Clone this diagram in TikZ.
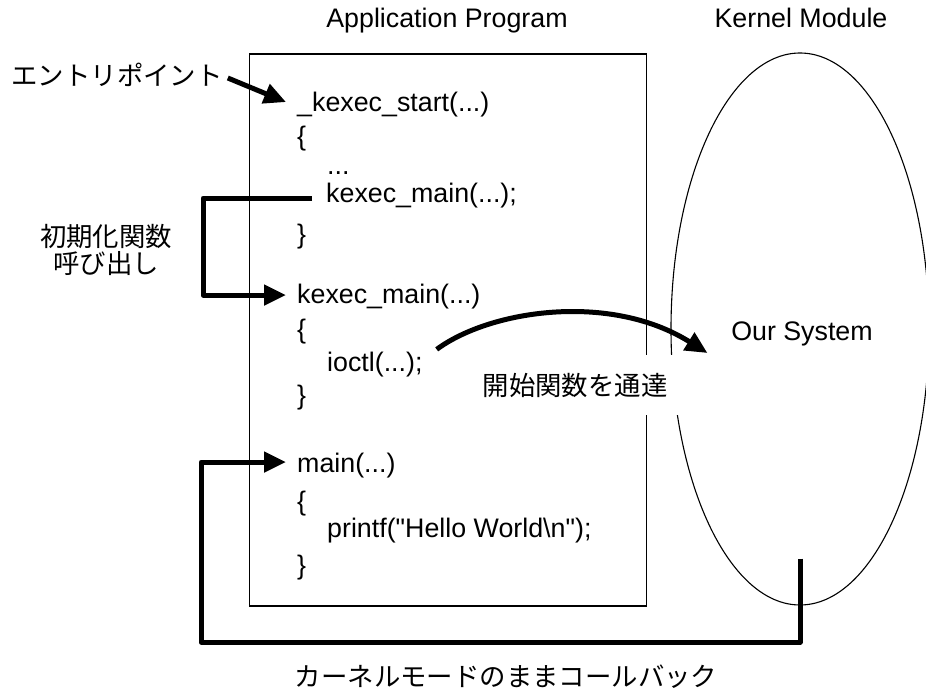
\documentclass[tikz,border=0pt]{standalone}
\usepackage{fontspec}
\newfontfamily\arial{Liberation Sans}
\newfontfamily\jp{Noto Sans CJK JP}
\usetikzlibrary{arrows.meta,shapes.geometric}
\begin{document}
\begin{tikzpicture}[x=1pt,y=-1pt,
  txt/.style={font=\arial\fontsize{26.8}{30}\selectfont, inner sep=0pt},
  code/.style={txt, anchor=base west},
  jtxt/.style={font=\jp\fontsize{26.4}{26.6}\selectfont, inner sep=0pt, align=center},
  thinline/.style={draw=black, line width=1.1pt},
  conn/.style={line width=5pt, line join=round, -{Triangle[length=22pt,width=20pt]}}]
\useasboundingbox (0,0) rectangle (926,692);
% titles
\node[txt, anchor=base] (ttlA) at (447,28) {Application Program};
\node[txt, anchor=base] (ttlK) at (801,28) {Kernel Module};
% application box and kernel ellipse
\node[thinline, rectangle, minimum width=397pt, minimum height=552pt, inner sep=0pt] (app) at (448,330) {};
\node[thinline, ellipse, minimum width=258pt, minimum height=552pt, inner sep=0pt] (km) at (800,329) {};
\node[txt, anchor=base] (os) at (802,341) {Our System};
% code lines
\node[code] (c1) at (297,112) {\_kexec\_start(...)};
\node[code] (c2) at (297,146) {\{};
\node[code] (c3) at (327,175) {...};
\node[code] (c4) at (326,203) {kexec\_main(...);};
\node[code] (c5) at (297,244) {\}};
\node[code] (c6) at (297,304) {kexec\_main(...)};
\node[code] (c7) at (297,339) {\{};
\node[code] (c8) at (327,372) {ioctl(...);};
\node[code] (c9) at (297,404) {\}};
\node[code] (c10) at (297,472) {main(...)};
\node[code] (c11) at (297,510) {\{};
\node[code] (c12) at (327,537) {printf("Hello World\textbackslash n");};
\node[code] (c13) at (297,574) {\}};
% japanese labels
\node[jtxt] (ep) at (117,75) {エントリポイント};
\node[jtxt] (il) at (106,250) {初期化関数\\呼び出し};
\node[jtxt, fill=white, inner xsep=12pt, inner ysep=18pt] (st) at (575,385) {開始関数を通達};
\node[jtxt] (cb) at (506,677) {カーネルモードのままコールバック};
% helper columns / rows
\coordinate (icol) at (203,250);
\coordinate (cbcol) at (201,550);
\coordinate (cbrow) at (500,642);
% entry arrow
\draw[conn] ([xshift=5pt,yshift=-3pt]ep.east) -- ([xshift=-11pt,yshift=3pt]c1.west);
% init call
\coordinate (is) at ([xshift=-14pt,yshift=-2pt]c4.west);
\coordinate (it) at ([xshift=-11pt,yshift=2pt]c6.west);
\draw[conn] (is) -- (is -| icol) -- (it -| icol) -- (it);
% ioctl to kernel
\draw[conn] ([xshift=14pt,yshift=3pt]c8.north east) .. controls (490,310) and (610,292) .. ([xshift=37pt,yshift=-24pt]km.west);
% callback
\coordinate (cs) at ([yshift=47pt]km.south);
\coordinate (ct) at ([xshift=-11pt,yshift=3pt]c10.west);
\draw[conn] (cs) -- (cs |- cbrow) -- (cbcol |- cbrow) -- (cbcol |- ct) -- (ct);
\end{tikzpicture}
\end{document}
